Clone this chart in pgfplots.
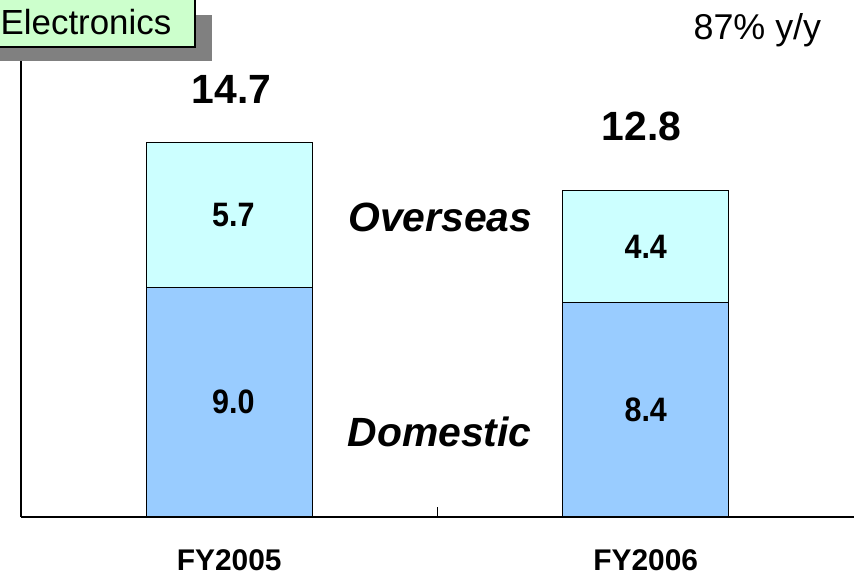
\documentclass[border=0pt]{standalone}
\usepackage{fontspec}
\setmainfont{Liberation Sans}
\usepackage{pgfplots}
\pgfplotsset{compat=1.18}
\definecolor{domestic}{HTML}{99CCFF}
\definecolor{overseas}{HTML}{CCFFFF}
\definecolor{boxgreen}{HTML}{CCFFCC}
\definecolor{shadow}{HTML}{808080}
\newcommand{\seg}[1]{\scalebox{0.9}[1]{\fontsize{34}{36}\selectfont\bfseries #1}}
\begin{document}
\begin{tikzpicture}
\begin{axis}[
  at={(21bp,66bp)}, anchor=south west,
  scale only axis, width=833bp, height=459bp,
  xmin=-0.5, xmax=1.5, ymin=0, ymax=18,
  ybar stacked, bar width=166bp,
  axis x line=bottom, axis y line=left,
  axis line style={-, line width=1.6bp, black},
  ytick=\empty,
  xtick={0,1}, xticklabels={FY2005,FY2006},
  major tick length=0pt,
  extra x ticks={0.5}, extra x tick labels={},
  extra x tick style={major tick length=10bp, tick align=inside,
    tick style={line width=1.5bp, black}},
  xticklabel style={font=\fontsize{30}{32}\selectfont\bfseries, yshift=-29bp},
  clip=false,
]
\addplot[fill=domestic, draw=black, line width=1.2bp] coordinates {(0,9.0) (1,8.4)};
\addplot[fill=overseas, draw=black, line width=1.2bp] coordinates {(0,5.7) (1,4.4)};
% anchors for the segment values (drawn after the axis, over the bars)
\coordinate (d05) at (axis cs:0.01,4.5);
\coordinate (o05) at (axis cs:0.01,11.85);
\coordinate (d06) at (axis cs:1,4.2);
\coordinate (o06) at (axis cs:1,10.6);
% totals
\node[font=\fontsize{41}{44}\selectfont\bfseries] at (axis cs:0.005,16.75) {14.7};
\node[font=\fontsize{41}{44}\selectfont\bfseries] at (axis cs:0.99,15.33) {12.8};
% series names
\node[font=\fontsize{41}{44}\selectfont\bfseries\itshape] at (axis cs:0.507,11.76) {Overseas};
\node[font=\fontsize{41}{44}\selectfont\bfseries\itshape] at (axis cs:0.505,3.33) {Domestic};
\node[font=\fontsize{36}{38}\selectfont] at (axis cs:1.268,19.1) {87\% y/y};
\end{axis}
\node at (d05) {\seg{9.0}};
\node at (o05) {\seg{5.7}};
\node at (d06) {\seg{8.4}};
\node at (o06) {\seg{4.4}};
\fill[shadow] (-20bp,522bp) rectangle (212bp,568bp);
\filldraw[fill=boxgreen, draw=black, line width=1.5bp] (-20bp,536bp) rectangle (195bp,600bp);
\node[font=\fontsize{35}{37}\selectfont] at (86bp,561bp) {Electronics};
\pgfresetboundingbox
\useasboundingbox (0,0) rectangle (854bp,583bp);
\end{tikzpicture}
\end{document}
